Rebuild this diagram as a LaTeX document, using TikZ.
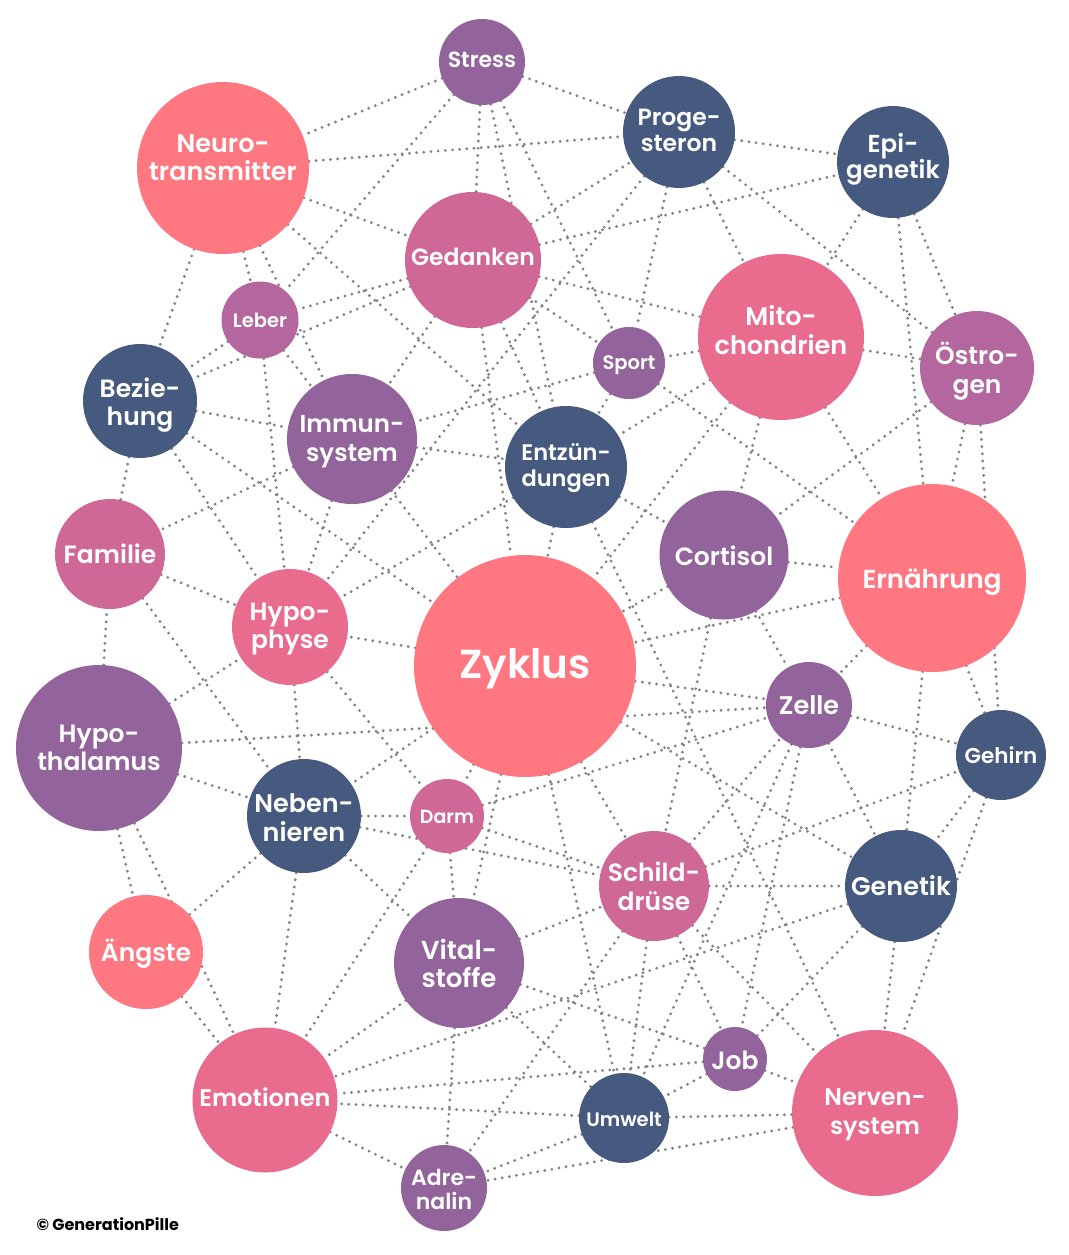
\documentclass[tikz,border=0pt]{standalone}
\usepackage{fontspec}
\setmainfont{Poppins}[UprightFont={* SemiBold}, BoldFont={* Bold}]
\definecolor{coral}{HTML}{FF7780}
\definecolor{pinkc}{HTML}{E96C8F}
\definecolor{magc}{HTML}{CF6797}
\definecolor{ppc}{HTML}{B3679E}
\definecolor{purc}{HTML}{93649B}
\definecolor{darkc}{HTML}{465A80}
\definecolor{dotc}{HTML}{858585}
\pgfdeclarelayer{edges}
\pgfsetlayers{edges,main}
\tikzset{
  bub/.style={circle, inner sep=0pt},
  txt/.style={inner sep=0pt, text=white, align=center},
  lnk/.style={draw=dotc, line width=3.2pt, line cap=round, dash pattern=on 0pt off 7.2pt},
}
\newcommand{\fs}[2]{\fontsize{#1}{#2}\selectfont}
% name, position, diameter, colour, font, vertical shift, text
\newcommand{\bubble}[7]{%
  \node[bub, fill=#4, minimum size=#3pt] (#1) at (#2) {};
  \node[txt, font=#5, yshift=#6pt] (#1-t) at (#1) {#7};
}
\begin{document}
\begin{tikzpicture}[x=1pt,y=-1pt]
\useasboundingbox (0,0) rectangle (1068,1255);
% nodes
\bubble{stress}{482,62}{86}{purc}{\fs{22}{26}}{2}{Stress}
\bubble{proge}{679,132}{112}{darkc}{\fs{23.5}{26}}{1.5}{Proge-\\steron}
\bubble{epi}{893,162}{112}{darkc}{\fs{24.5}{26}}{3}{Epi-\\genetik}
\bubble{neuro}{223,168}{172}{coral}{\fs{25.5}{28}}{10}{Neuro-\\transmitter}
\bubble{ged}{473,260}{136}{magc}{\fs{23.5}{28}}{3}{Gedanken}
\bubble{leber}{260,320}{77}{ppc}{\fs{19.5}{22}}{0}{Leber}
\bubble{sport}{629,363}{72}{purc}{\fs{19.5}{22}}{-2}{Sport}
\bubble{mito}{781,337}{166}{pinkc}{\fs{25.5}{29}}{7}{Mito-\\chondrien}
\bubble{oestro}{977,368}{114}{ppc}{\fs{25}{29}}{-3}{Östro-\\gen}
\bubble{bez}{140,401}{114}{darkc}{\fs{25}{28}}{-4}{Bezie-\\hung}
\bubble{immun}{352,439}{130}{purc}{\fs{24.5}{29}}{-3}{Immun-\\system}
\bubble{entz}{566,467}{122}{darkc}{\fs{22.5}{26}}{-1}{Entzün-\\dungen}
\bubble{cort}{724,555}{129}{purc}{\fs{25}{28}}{-1}{Cortisol}
\bubble{ern}{932,578}{188}{coral}{\fs{26}{30}}{-4}{Ernährung}
\bubble{fam}{110,554}{110}{magc}{\fs{25}{28}}{0}{Familie}
\bubble{hypo}{290,627}{116}{pinkc}{\fs{25}{28}}{-2}{Hypo-\\physe}
\bubble{zyk}{525,666}{222}{coral}{\fs{40.5}{48}}{-3}{Zyklus}
\bubble{zelle}{809,705}{86}{purc}{\fs{25.5}{28}}{0}{Zelle}
\bubble{hth}{99,748}{166}{purc}{\fs{25}{28}}{0}{Hypo-\\thalamus}
\bubble{gehirn}{1001,755}{90}{darkc}{\fs{21.5}{24}}{0}{Gehirn}
\bubble{nebn}{304,816}{114}{darkc}{\fs{25.5}{29}}{-1.5}{Neben-\\nieren}
\bubble{darm}{447,816}{74}{magc}{\fs{19}{22}}{-1}{Darm}
\bubble{schild}{654,886}{110}{magc}{\fs{25}{29}}{0}{Schild-\\drüse}
\bubble{genetik}{901,886}{112}{darkc}{\fs{25.5}{28}}{0}{Genetik}
\bubble{aengste}{146,952}{114}{coral}{\fs{25}{28}}{-2}{Ängste}
\bubble{vital}{459,963}{130}{purc}{\fs{26}{28}}{0}{Vital-\\stoffe}
\bubble{job}{735,1059}{64}{purc}{\fs{25}{28}}{-1}{Job}
\bubble{emo}{265,1100}{145}{pinkc}{\fs{24}{28}}{3}{Emotionen}
\bubble{umwelt}{624,1118}{90}{darkc}{\fs{19.5}{22}}{-1}{Umwelt}
\bubble{nerv}{875,1113}{166}{pinkc}{\fs{24}{29}}{-2}{Nerven-\\system}
\bubble{adren}{444,1188}{86}{purc}{\fs{22}{24}}{-1.5}{Adre-\\nalin}
\node[anchor=west, text=black, font=\bfseries\fontsize{16}{18}\selectfont] (copy) at (33,1224) {© GenerationPille};
% connectors
\begin{pgfonlayer}{edges}
\foreach \a/\b in {
  stress/neuro, stress/leber, stress/ged, stress/entz, stress/sport, stress/proge,
  neuro/proge, neuro/ged, neuro/entz, neuro/immun, neuro/leber, neuro/bez,
  ged/leber, ged/bez, ged/immun, ged/zyk, ged/entz, ged/proge, ged/epi, ged/mito, ged/sport,
  proge/epi, proge/oestro, proge/mito, proge/sport, proge/hypo,
  epi/mito, epi/ern, epi/oestro,
  mito/oestro, mito/sport, mito/zyk, mito/entz, mito/cort, mito/ern,
  oestro/cort, oestro/ern, oestro/gehirn,
  leber/bez, leber/hypo, leber/immun,
  bez/immun, bez/zyk, bez/hypo, bez/fam,
  sport/immun, sport/entz, sport/ern,
  immun/fam, immun/hypo, immun/entz, immun/zyk,
  entz/hypo, entz/zyk, entz/cort, entz/nerv,
  cort/ern, cort/zyk, cort/schild, cort/zelle,
  ern/zyk, ern/zelle, ern/genetik, ern/gehirn,
  zyk/hypo, zyk/nebn, zyk/darm, zyk/zelle, zyk/schild, zyk/genetik, zyk/umwelt, zyk/vital,
  hth/zelle, hth/hypo, hth/fam, hth/nebn, hth/aengste, hth/emo,
  fam/hypo, fam/nebn,
  hypo/nebn, hypo/darm,
  nebn/darm, nebn/schild, nebn/vital, nebn/aengste, nebn/emo,
  darm/emo, darm/vital, darm/schild, darm/zelle,
  aengste/emo,
  vital/schild, vital/job, vital/umwelt, vital/adren, vital/emo,
  schild/zelle, schild/gehirn, schild/genetik, schild/umwelt, schild/job, schild/nerv, schild/adren,
  zelle/job, zelle/genetik, zelle/gehirn, zelle/umwelt,
  gehirn/genetik, gehirn/nerv,
  genetik/nerv, genetik/job, genetik/emo,
  job/nerv, job/umwelt, job/emo,
  umwelt/nerv, umwelt/emo, umwelt/adren,
  nerv/adren, emo/adren}
  \draw[lnk] (\a) -- (\b);
\end{pgfonlayer}
\end{tikzpicture}
\end{document}
